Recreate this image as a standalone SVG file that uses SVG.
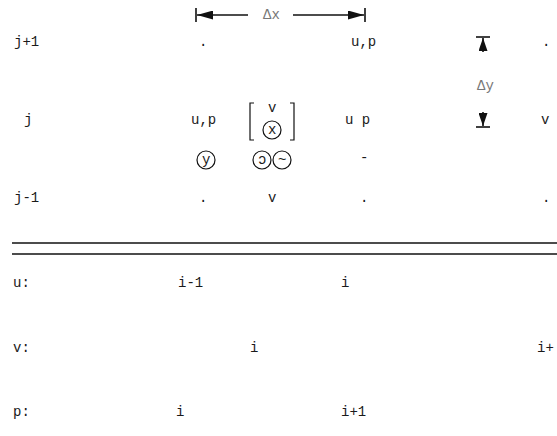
<svg xmlns="http://www.w3.org/2000/svg" width="557" height="436" viewBox="0 0 557 436">
<style>
text{font-family:"Liberation Mono","DejaVu Sans Mono",monospace;font-size:14px;fill:#1a1a1a;}
.faint{fill:#777;}
.ln{stroke:#111;stroke-width:1.6;fill:none;}
.thin{stroke:#111;stroke-width:1.2;fill:none;}
</style>
<defs>
<marker id="ah" markerWidth="16" markerHeight="9" refX="16" refY="4.5" orient="auto" markerUnits="userSpaceOnUse">
<path d="M0,0 L16,4.5 L0,9 Z" fill="#111"/>
</marker>
<marker id="av" markerWidth="13" markerHeight="9" refX="13" refY="4.5" orient="auto" markerUnits="userSpaceOnUse">
<path d="M0,0 L13,4.5 L0,9 Z" fill="#111"/>
</marker>
</defs>
<rect width="557" height="436" fill="#fff"/>
<g id="connectors">
<line class="ln" x1="248" y1="15" x2="197" y2="15" marker-end="url(#ah)"/>
<line class="ln" x1="196" y1="8" x2="196" y2="22"/>
<line class="ln" x1="293" y1="15" x2="364" y2="15" marker-end="url(#ah)"/>
<line class="ln" x1="365" y1="8" x2="365" y2="22"/>
<line class="ln" x1="476" y1="37" x2="490" y2="37"/>
<line class="ln" x1="483" y1="52" x2="483" y2="38" marker-end="url(#av)"/>
<line class="ln" x1="476" y1="127" x2="490" y2="127"/>
<line class="ln" x1="483" y1="112" x2="483" y2="126" marker-end="url(#av)"/>
<line class="ln" x1="12" y1="243" x2="557" y2="243"/>
<line class="ln" x1="12" y1="254" x2="557" y2="254"/>
</g>
<g id="dx"><text x="263" y="19" class="faint">Δx</text></g>
<g id="dy"><text x="477" y="90" class="faint">Δy</text></g>
<g id="row-j1">
<text x="14" y="46">j+1</text>
<text x="199" y="46">.</text>
<text x="351" y="46">u,p</text>
<text x="542" y="46">.</text>
</g>
<g id="row-j">
<text x="24" y="124">j</text>
<text x="191" y="124">u,p</text>
<text x="345" y="124">u p</text>
<text x="541" y="124">v</text>
</g>
<g id="bracket">
<path class="thin" d="M254,103 L250,103 L250,140 L254,140"/>
<path class="thin" d="M290,103 L294,103 L294,140 L290,140"/>
<text x="268" y="112">v</text>
<circle class="thin" cx="272" cy="130" r="9"/>
<text x="268" y="134">x</text>
</g>
<g id="circles">
<circle class="thin" cx="206" cy="160" r="9"/>
<text x="202" y="164">y</text>
<circle class="thin" cx="262" cy="160" r="9"/>
<text x="258" y="164">ɔ</text>
<circle class="thin" cx="282" cy="160" r="9"/>
<text x="278" y="164">~</text>
<text x="360" y="162">-</text>
</g>
<g id="row-jm1">
<text x="14" y="202">j-1</text>
<text x="199" y="202">.</text>
<text x="268" y="202">v</text>
<text x="360" y="202">.</text>
<text x="542" y="202">.</text>
</g>
<g id="row-u">
<text x="13" y="287">u:</text>
<text x="178" y="287">i-1</text>
<text x="341" y="287">i</text>
</g>
<g id="row-v">
<text x="13" y="352">v:</text>
<text x="250" y="352">i</text>
<text x="537" y="352">i+</text>
</g>
<g id="row-p">
<text x="13" y="416">p:</text>
<text x="176" y="416">i</text>
<text x="341" y="416">i+1</text>
</g>
</svg>
